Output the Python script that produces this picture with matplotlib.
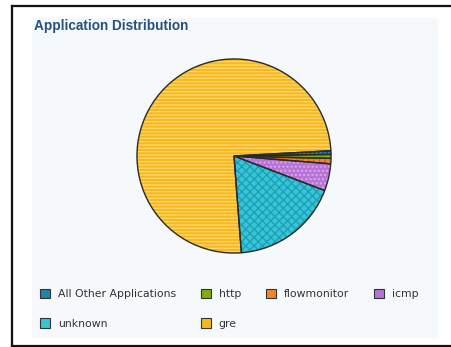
import matplotlib.pyplot as plt
from matplotlib.patches import Patch, Rectangle
from matplotlib.lines import Line2D

# slice data, clockwise from the right edge
apps = ['All Other Applications', 'http', 'flowmonitor', 'icmp', 'unknown', 'gre']
shares = [0.6, 0.65, 0.9, 4.5, 18.0, 75.35]
colors = ['#2384a6', '#7fae0c', '#f4852a', '#b774d6', '#37c6d6', '#f6b81c']
hatch_colors = ['#0e4f70', '#9cc83a', '#e0601a', '#d9a8ee', '#1e9fb8', '#fcd66a']
hatches = ['||||', '', '+++', '....', 'xxxx', '-----']

W, H = 452, 347
fig = plt.figure(figsize=(W / 100, H / 100), dpi=100)
fig.patch.set_facecolor('white')

# panel background and outer frame
fig.patches.append(Rectangle((32 / W, 1 - 338 / H), 406 / W, 320 / H,
                             transform=fig.transFigure, facecolor='#f6f9fc',
                             edgecolor='none', zorder=-5))
frame = dict(color='#111111', lw=1.6, transform=fig.transFigure)
fig.lines.append(Line2D([12 / W, 12 / W], [1 - 6 / H, 1 - 346 / H], **frame))
fig.lines.append(Line2D([12 / W, 1], [1 - 6 / H, 1 - 6 / H], **frame))
fig.lines.append(Line2D([12 / W, 1], [1 - 346 / H, 1 - 346 / H], **frame))

fig.text(34 / W, 1 - 26 / H, 'Application Distribution', fontsize=9.8,
         fontweight='bold', color='#24527f', va='center', ha='left',
         family='Liberation Sans')

cx, cy, r = 234, 156, 98
ax = fig.add_axes([(cx - r) / W, 1 - (cy + r) / H, 2 * r / W, 2 * r / H])
ax.set_zorder(2)
wedges, _ = ax.pie(shares, colors=colors, startangle=3.1, counterclock=False,
                   wedgeprops=dict(linewidth=0))
for w, hc, h in zip(wedges, hatch_colors, hatches):
    w.set_hatch(h)
    w.set_edgecolor(hc)
    w.set_linewidth(0)
# dark outlines on top
ax.pie(shares, colors=['none'] * len(shares), startangle=3.1, counterclock=False,
       wedgeprops=dict(linewidth=1.0, edgecolor='#2a2a2a', fill=False))
ax.set_xlim(-1.01, 1.01)
ax.set_ylim(-1.01, 1.01)
ax.axis('off')

# legend: order so columns fill as in the original
order = [0, 4, 1, 5, 2, 3]
handles = [Patch(facecolor=colors[i], edgecolor='#333333', linewidth=0.8)
           for i in order]
leg = fig.legend(handles, [apps[i] for i in order], ncol=4,
                 loc='upper left', bbox_to_anchor=(40 / W, 1 - 289 / H),
                 frameon=False, fontsize=7.8, handlelength=0.95, handleheight=0.95,
                 handletextpad=0.7, columnspacing=2.3, labelspacing=1.75,
                 borderpad=0, borderaxespad=0)
leg.set_zorder(3)
for t in leg.get_texts():
    t.set_color('#333333')

fig.savefig('out.png', dpi=100, facecolor='white')
